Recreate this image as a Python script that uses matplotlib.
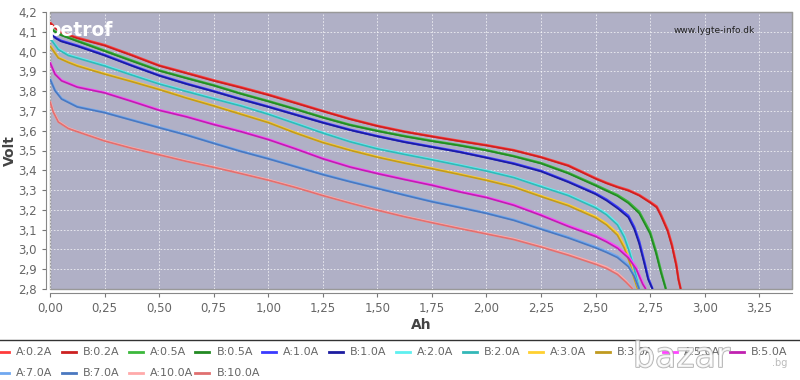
import matplotlib
matplotlib.use('Agg')
import matplotlib.pyplot as plt
from matplotlib.ticker import FuncFormatter, MultipleLocator
import matplotlib.patheffects as pe

# Discharge curves (Ah vs Volt); cells A and B nearly coincide
ah_02 = [0, 0.025, 0.05, 0.125, 0.25, 0.375, 0.5, 0.625, 0.75, 0.875, 1.0, 1.125, 1.25, 1.375, 1.5, 1.625,
         1.75, 1.875, 2.0, 2.125, 2.25, 2.375, 2.5, 2.55, 2.6, 2.65, 2.7, 2.75, 2.78, 2.8, 2.83, 2.85, 2.87, 2.88, 2.89]
v_02a = [4.147, 4.12, 4.097, 4.07, 4.033, 3.983, 3.93, 3.893, 3.855, 3.82, 3.783, 3.742, 3.70, 3.66, 3.625, 3.596,
         3.572, 3.549, 3.527, 3.502, 3.467, 3.425, 3.36, 3.337, 3.317, 3.30, 3.275, 3.24, 3.217, 3.175, 3.10, 3.025, 2.925, 2.85, 2.80]
v_02b = [4.145, 4.118, 4.095, 4.067, 4.030, 3.980, 3.928, 3.890, 3.852, 3.817, 3.780, 3.739, 3.698, 3.658, 3.623, 3.594,
         3.570, 3.547, 3.525, 3.500, 3.465, 3.422, 3.357, 3.334, 3.314, 3.297, 3.272, 3.236, 3.212, 3.168, 3.092, 3.015, 2.915, 2.845, 2.80]

ah_05 = [0, 0.025, 0.05, 0.125, 0.25, 0.375, 0.5, 0.625, 0.75, 0.875, 1.0, 1.125, 1.25, 1.375, 1.5, 1.625,
         1.75, 1.875, 2.0, 2.125, 2.25, 2.375, 2.5, 2.55, 2.6, 2.65, 2.7, 2.75, 2.777, 2.8, 2.822]
v_05a = [4.12, 4.10, 4.085, 4.055, 4.005, 3.955, 3.905, 3.867, 3.83, 3.788, 3.75, 3.71, 3.668, 3.63, 3.600, 3.573,
         3.549, 3.527, 3.502, 3.472, 3.437, 3.387, 3.326, 3.30, 3.275, 3.24, 3.19, 3.088, 2.99, 2.89, 2.80]
v_05b = [4.118, 4.098, 4.083, 4.052, 4.002, 3.952, 3.903, 3.865, 3.828, 3.786, 3.748, 3.708, 3.666, 3.628, 3.598, 3.571,
         3.547, 3.525, 3.500, 3.470, 3.434, 3.384, 3.322, 3.296, 3.270, 3.234, 3.182, 3.078, 2.98, 2.88, 2.80]

ah_1 = [0, 0.025, 0.05, 0.125, 0.25, 0.375, 0.5, 0.625, 0.75, 0.875, 1.0, 1.125, 1.25, 1.375, 1.5, 1.625,
        1.75, 1.875, 2.0, 2.125, 2.25, 2.375, 2.5, 2.55, 2.6, 2.65, 2.677, 2.7, 2.723, 2.741, 2.761]
v_1a = [4.097, 4.07, 4.055, 4.03, 3.983, 3.93, 3.88, 3.838, 3.80, 3.76, 3.722, 3.682, 3.642, 3.605, 3.573, 3.544,
        3.519, 3.494, 3.465, 3.435, 3.397, 3.343, 3.283, 3.252, 3.214, 3.17, 3.113, 3.04, 2.94, 2.855, 2.80]
v_1b = [4.095, 4.068, 4.052, 4.027, 3.980, 3.928, 3.878, 3.836, 3.798, 3.758, 3.720, 3.680, 3.640, 3.603, 3.571, 3.542,
        3.517, 3.492, 3.463, 3.432, 3.394, 3.340, 3.279, 3.247, 3.208, 3.162, 3.103, 3.028, 2.93, 2.848, 2.80]

ah_2 = [0, 0.038, 0.084, 0.125, 0.25, 0.375, 0.5, 0.625, 0.75, 0.875, 1.0, 1.125, 1.25, 1.375, 1.5, 1.625,
        1.75, 1.875, 2.0, 2.125, 2.25, 2.375, 2.5, 2.55, 2.6, 2.631, 2.654, 2.674, 2.692, 2.70]
v_2a = [4.07, 4.013, 3.983, 3.97, 3.93, 3.883, 3.838, 3.80, 3.763, 3.727, 3.685, 3.638, 3.59, 3.546, 3.51, 3.482,
        3.455, 3.427, 3.398, 3.365, 3.32, 3.275, 3.214, 3.18, 3.13, 3.07, 3.0, 2.925, 2.84, 2.80]
v_2b = [4.068, 4.010, 3.980, 3.967, 3.927, 3.881, 3.836, 3.798, 3.761, 3.725, 3.683, 3.636, 3.588, 3.544, 3.508, 3.480,
        3.453, 3.425, 3.396, 3.363, 3.317, 3.272, 3.210, 3.175, 3.124, 3.062, 2.99, 2.915, 2.835, 2.80]

ah_3 = [0, 0.038, 0.084, 0.125, 0.25, 0.375, 0.5, 0.625, 0.75, 0.875, 1.0, 1.125, 1.25, 1.375, 1.5, 1.625,
        1.75, 1.875, 2.0, 2.125, 2.25, 2.375, 2.5, 2.55, 2.6, 2.631, 2.654, 2.674, 2.693]
v_3a = [4.03, 3.97, 3.947, 3.93, 3.888, 3.85, 3.81, 3.767, 3.727, 3.685, 3.643, 3.59, 3.542, 3.503, 3.468, 3.438,
        3.41, 3.381, 3.351, 3.318, 3.27, 3.225, 3.165, 3.13, 3.08, 3.017, 2.95, 2.87, 2.80]
v_3b = [4.028, 3.968, 3.945, 3.927, 3.886, 3.848, 3.808, 3.765, 3.725, 3.683, 3.641, 3.588, 3.540, 3.501, 3.466, 3.436,
        3.408, 3.379, 3.349, 3.315, 3.267, 3.221, 3.160, 3.124, 3.072, 3.008, 2.94, 2.862, 2.80]

ah_5 = [0, 0.023, 0.053, 0.125, 0.25, 0.375, 0.5, 0.625, 0.75, 0.875, 1.0, 1.125, 1.25, 1.375, 1.5, 1.625,
        1.75, 1.875, 2.0, 2.125, 2.25, 2.375, 2.5, 2.55, 2.6, 2.65, 2.685, 2.716, 2.73]
v_5a = [3.947, 3.888, 3.855, 3.822, 3.793, 3.75, 3.705, 3.672, 3.633, 3.597, 3.557, 3.51, 3.46, 3.418, 3.385, 3.355,
        3.326, 3.293, 3.264, 3.226, 3.175, 3.12, 3.07, 3.043, 3.012, 2.965, 2.91, 2.83, 2.80]
v_5b = [3.945, 3.885, 3.852, 3.820, 3.791, 3.748, 3.703, 3.670, 3.631, 3.595, 3.555, 3.508, 3.458, 3.416, 3.383, 3.353,
        3.324, 3.291, 3.262, 3.223, 3.172, 3.116, 3.065, 3.038, 3.006, 2.957, 2.902, 2.824, 2.80]

ah_7 = [0, 0.023, 0.053, 0.125, 0.25, 0.375, 0.5, 0.625, 0.75, 0.875, 1.0, 1.125, 1.25, 1.375, 1.5, 1.625,
        1.75, 1.875, 2.0, 2.125, 2.25, 2.375, 2.5, 2.55, 2.6, 2.65, 2.677, 2.70]
v_7a = [3.863, 3.805, 3.763, 3.722, 3.693, 3.655, 3.617, 3.58, 3.538, 3.497, 3.46, 3.42, 3.38, 3.344, 3.31, 3.276,
        3.243, 3.214, 3.184, 3.15, 3.105, 3.062, 3.012, 2.99, 2.965, 2.92, 2.87, 2.80]
v_7b = [3.861, 3.802, 3.760, 3.720, 3.691, 3.653, 3.615, 3.578, 3.536, 3.495, 3.458, 3.418, 3.378, 3.342, 3.308, 3.274,
        3.241, 3.212, 3.182, 3.147, 3.102, 3.058, 3.008, 2.985, 2.959, 2.913, 2.864, 2.80]

ah_10 = [0, 0.015, 0.038, 0.084, 0.125, 0.25, 0.375, 0.5, 0.625, 0.75, 0.875, 1.0, 1.125, 1.25, 1.375, 1.5, 1.625,
         1.75, 1.875, 2.0, 2.125, 2.25, 2.375, 2.5, 2.55, 2.6, 2.639, 2.67]
v_10a = [3.75, 3.697, 3.647, 3.613, 3.597, 3.55, 3.513, 3.48, 3.447, 3.417, 3.385, 3.352, 3.315, 3.274, 3.236, 3.20, 3.167,
         3.137, 3.108, 3.08, 3.053, 3.015, 2.975, 2.93, 2.91, 2.88, 2.84, 2.80]
v_10b = [3.748, 3.694, 3.644, 3.611, 3.595, 3.548, 3.511, 3.478, 3.445, 3.415, 3.383, 3.350, 3.313, 3.272, 3.234, 3.198, 3.165,
         3.135, 3.106, 3.078, 3.050, 3.012, 2.971, 2.925, 2.904, 2.874, 2.835, 2.80]

labels = ['A:0.2A', 'B:0.2A', 'A:0.5A', 'B:0.5A', 'A:1.0A', 'B:1.0A', 'A:2.0A', 'B:2.0A',
          'A:3.0A', 'B:3.0A', 'A:5.0A', 'B:5.0A', 'A:7.0A', 'B:7.0A', 'A:10.0A', 'B:10.0A']
colors = ['#ff3b3b', '#cc2020', '#3cb83c', '#238a23', '#3a3aff', '#1c1ca0', '#5ef0f0', '#33b8b8',
          '#ffd030', '#c09a20', '#ff44ff', '#c020b0', '#70a8f0', '#4a78c0', '#ffaaaa', '#e07070']

series = [(ah_02, v_02a), (ah_02, v_02b), (ah_05, v_05a), (ah_05, v_05b),
          (ah_1, v_1a), (ah_1, v_1b), (ah_2, v_2a), (ah_2, v_2b),
          (ah_3, v_3a), (ah_3, v_3b), (ah_5, v_5a), (ah_5, v_5b),
          (ah_7, v_7a), (ah_7, v_7b), (ah_10, v_10a), (ah_10, v_10b)]

W, H = 800, 380
fig = plt.figure(figsize=(8, 3.8), dpi=100)
ax = fig.add_axes([50 / W, 1 - 289 / H, 742 / W, 277 / H])
ax.set_facecolor('#b0b0c6')

for i, ((x, y), lab, col) in enumerate(zip(series, labels, colors)):
    lw = 1.7 if i % 2 == 0 else 1.2
    ax.plot(x, y, color=col, lw=lw, label=lab, solid_capstyle='butt')

ax.set_xlim(0, 3.40)
ax.set_ylim(2.8, 4.2)
ax.xaxis.set_major_locator(MultipleLocator(0.25))
ax.yaxis.set_major_locator(MultipleLocator(0.1))
ax.xaxis.set_major_formatter(FuncFormatter(lambda v, p: f'{v:.2f}'.replace('.', ',')))
ax.yaxis.set_major_formatter(FuncFormatter(lambda v, p: f'{v:.1f}'.replace('.', ',')))
ax.grid(True, color='white', ls=(0, (2, 2)), lw=0.6, alpha=0.8)
ax.set_axisbelow(True)

for s in ['top', 'right']:
    ax.spines[s].set_color('#999999')
for s in ['left', 'bottom']:
    ax.spines[s].set_position(('outward', 3))
    ax.spines[s].set_color('#888888')
ax.patch.set_edgecolor('#999999')
ax.patch.set_linewidth(1)
ax.tick_params(colors='#777777', labelcolor='#666666', labelsize=8.5, length=3)

ax.set_ylabel('Volt', fontsize=10, fontweight='bold', color='#444444')
ax.yaxis.set_label_coords((17 - 50) / 742, 0.5)
ax.set_xlabel('Ah', fontsize=10, fontweight='bold', color='#444444', labelpad=2)

ax.text((755 - 50) / 742, 0.935, 'www.lygte-info.dk', transform=ax.transAxes, ha='right', va='center',
        fontsize=6.5, color='#222222')

# watermark
fig.text(47 / W, 1 - 30 / H, 'petrof', color='white', fontsize=13.5, fontweight='bold', va='center')

# legend below the chart, drawn by hand on a 12-column grid
fig.add_artist(plt.Line2D([0, 1], [1 - 340 / H, 1 - 340 / H], transform=fig.transFigure, color='#333333', lw=1))
for i, (lab, col) in enumerate(zip(labels, colors)):
    tx = 16 + 66.8 * (i % 12)
    ty = 1 - (352 + 21 * (i // 12)) / H
    fig.add_artist(plt.Line2D([(tx - 21) / W, (tx - 7) / W], [ty, ty], transform=fig.transFigure,
                              color=col, lw=2))
    fig.text(tx / W, ty, lab, fontsize=8, color='#666666', va='center', ha='left')

fig.text(633 / W, 1 - 367 / H, 'bazar', color='white', alpha=0.75, fontsize=25, va='baseline',
         path_effects=[pe.withStroke(linewidth=1.2, foreground='#999999')])
fig.text(772 / W, 1 - 366 / H, '.bg', color='#bbbbbb', fontsize=7, va='baseline')

fig.savefig('out.png', dpi=100)
